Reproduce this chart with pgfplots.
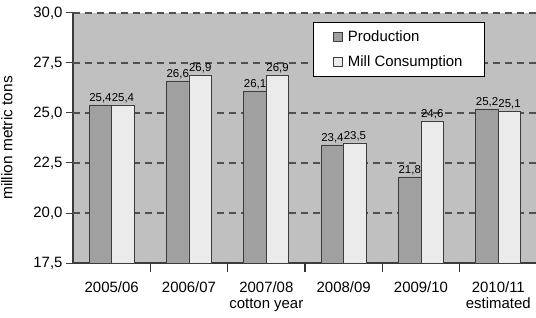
\documentclass[border=0pt]{standalone}
\usepackage{pgfplots}
\pgfplotsset{compat=1.18}
\usepackage{fontspec}
\setmainfont{Liberation Sans}
\definecolor{bg}{HTML}{C0C0C0}
\definecolor{prod}{HTML}{A0A0A0}
\definecolor{cons}{HTML}{EBEBEB}
\definecolor{edge}{HTML}{3C3C3C}
\definecolor{gridc}{HTML}{505050}
\begin{document}
\begin{tikzpicture}
\useasboundingbox (-73bp,-55bp) rectangle (463bp,263bp);
\begin{axis}[
  at={(0,0)}, anchor=south west,
  scale only axis,
  width=464bp, height=250bp,
  xmin=-0.5, xmax=5.5,
  ymin=17.5, ymax=30,
  axis background/.style={fill=bg},
  axis x line*=bottom, axis y line*=left,
  axis line style={draw=edge, line width=1.4bp, -},
  xtick={0,1,2,3,4,5},
  xticklabels={2005/06,2006/07,{2007/08\\cotton year},2008/09,2009/10,{2010/11\\estimated}},
  xticklabel style={align=center, font=\fontsize{15}{16}\selectfont, yshift=-8bp},
  x tick style={draw=none},
  extra x ticks={0.5,1.5,2.5,3.5,4.5,5.5},
  extra x tick labels={},
  extra x tick style={x tick style={draw=black!80, line width=1.5bp}, major tick length=9bp},
  ytick={17.5,20,22.5,25,27.5,30},
  y tick style={draw=edge, line width=1bp},
  extra y ticks={20,22.5,25,27.5,30},
  extra y tick labels={},
  extra y tick style={ymajorgrids=true},
  major tick length=7bp,
  tick align=outside,
  yticklabel style={font=\fontsize{15}{16}\selectfont},
  /pgf/number format/.cd, fixed, fixed zerofill, precision=1, use comma, assume math mode=true,
  /pgfplots/.cd,
  major grid style={draw=gridc, line width=1.3bp, dash pattern=on 7bp off 5bp},
  ylabel={million metric tons},
  ylabel style={font=\fontsize{15.5}{17}\selectfont},
  ybar, bar width=22.5bp,
  nodes near coords,
  every node near coord/.append style={font=\fontsize{11.5}{12}\selectfont, text=black, inner sep=2bp},
  legend style={at={(0.517,0.964)}, anchor=north west, draw=black, fill=white,
    font=\fontsize{15}{17}\selectfont, inner xsep=20bp, inner ysep=6bp,
    row sep=9bp, line width=0.8bp},
  legend cell align=left,
]
\addplot[fill=prod, draw=edge, line width=0.8bp, bar shift=-11.25bp,
  legend image code/.code={\draw[fill=prod,draw=edge,line width=0.6bp] (0bp,-4.5bp) rectangle (9bp,4.5bp); \path (12bp,0bp);}]
  coordinates {(0,25.4) (1,26.6) (2,26.1) (3,23.4) (4,21.8) (5,25.2)};
\addplot[fill=cons, draw=edge, line width=0.8bp, bar shift=11.25bp,
  legend image code/.code={\draw[fill=cons,draw=edge,line width=0.6bp] (0bp,-4.5bp) rectangle (9bp,4.5bp); \path (12bp,0bp);}]
  coordinates {(0,25.4) (1,26.9) (2,26.9) (3,23.5) (4,24.6) (5,25.1)};
\legend{Production, Mill Consumption}
\end{axis}
\end{tikzpicture}
\end{document}
